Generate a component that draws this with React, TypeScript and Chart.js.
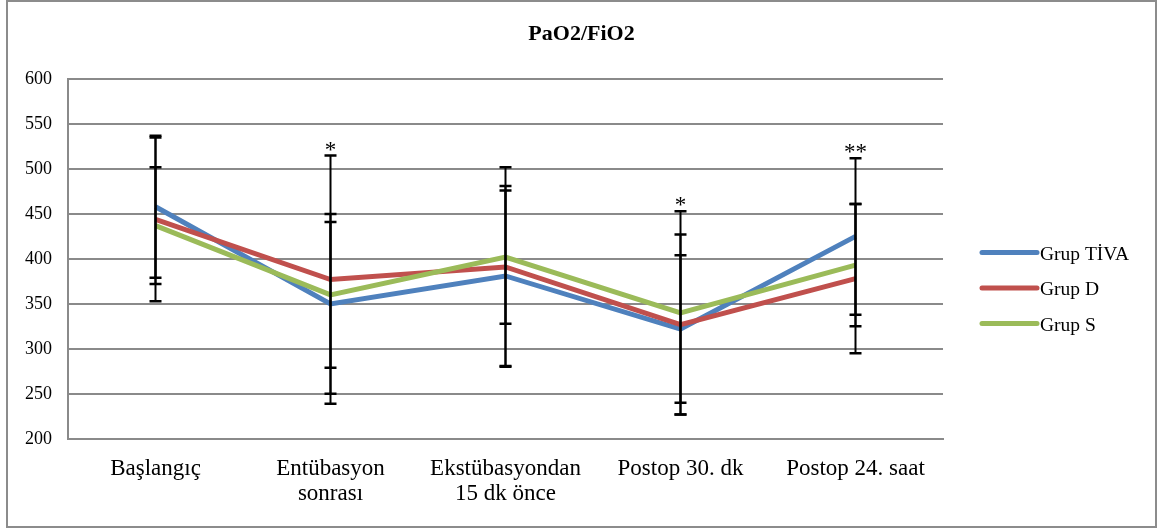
import React, { useEffect, useRef } from 'react';
import { Chart, registerables } from 'chart.js';

Chart.register(...registerables);

// Measurement points along the x axis
const categories: (string | string[])[] = [
  'Başlangıç',
  ['Entübasyon', 'sonrası'],
  ['Ekstübasyondan', '15 dk önce'],
  'Postop 30. dk',
  'Postop 24. saat',
];

const seriesNames = ['Grup TİVA', 'Grup D', 'Grup S'];
const seriesColors = ['#4F81BD', '#C0504D', '#9BBB59'];

// PaO2/FiO2 means and standard deviations per group
const tivaMean = [458, 350, 381, 322, 425];
const tivaSd = [79, 100, 100, 82, 87];
const dMean = [444, 377, 391, 327, 378];
const dSd = [91, 138, 111, 100, 83];
const sMean = [437, 360, 402, 340, 393];
const sSd = [65, 81, 74, 113, 68];

// Significance marks placed above each time point
const significance = ['', '*', '', '*', '**'];

const chartTitle = 'PaO2/FiO2';
const yMin = 200;
const yMax = 600;
const yStep = 50;

const SERIF = '"Liberation Serif", "Times New Roman", serif';
const GRID = '#8a8a8a';

const means = [tivaMean, dMean, sMean];
const sds = [tivaSd, dSd, sSd];

const decorations = {
  id: 'decorations',
  beforeDraw(chart: any) {
    const ctx = chart.ctx;
    ctx.save();
    ctx.fillStyle = '#ffffff';
    ctx.fillRect(0, 0, chart.width, chart.height);
    ctx.strokeStyle = '#8c8c8c';
    ctx.lineWidth = 2;
    ctx.strokeRect(7, 1, 1149, 526);

    // title centred across the whole frame
    ctx.fillStyle = '#000000';
    ctx.font = `bold 22px ${SERIF}`;
    ctx.textAlign = 'center';
    ctx.textBaseline = 'middle';
    ctx.fillText(chartTitle, chart.width / 2 + 2, 34);
    ctx.restore();
  },
  afterDatasetsDraw(chart: any) {
    const ctx = chart.ctx;
    const xs = chart.scales.x;
    const ys = chart.scales.y;
    const area = chart.chartArea;
    ctx.save();

    // standard deviation whiskers
    ctx.strokeStyle = '#000000';
    const tops: number[] = categories.map(() => Infinity);
    means.forEach((m, si) => {
      m.forEach((v, i) => {
        const x = xs.getPixelForValue(i);
        const yHi = ys.getPixelForValue(v + sds[si][i]);
        const yLo = ys.getPixelForValue(v - sds[si][i]);
        tops[i] = Math.min(tops[i], yHi);
        ctx.lineWidth = 2;
        ctx.beginPath();
        ctx.moveTo(x, yHi);
        ctx.lineTo(x, yLo);
        ctx.stroke();
        ctx.lineWidth = 2.5;
        ctx.beginPath();
        ctx.moveTo(x - 6, yHi);
        ctx.lineTo(x + 6, yHi);
        ctx.moveTo(x - 6, yLo);
        ctx.lineTo(x + 6, yLo);
        ctx.stroke();
      });
    });

    // significance asterisks
    ctx.fillStyle = '#000000';
    ctx.font = `23px ${SERIF}`;
    ctx.textAlign = 'center';
    ctx.textBaseline = 'middle';
    significance.forEach((s, i) => {
      if (!s) return;
      ctx.fillText(s, xs.getPixelForValue(i), tops[i] - 5);
    });

    // legend
    const lx = area.right + 39;
    const cy = (area.top + area.bottom) / 2 + 29;
    const gap = 35.5;
    ctx.font = `19.5px ${SERIF}`;
    ctx.textAlign = 'left';
    ctx.lineCap = 'round';
    seriesNames.forEach((name, i) => {
      const y = cy + (i - 1) * gap;
      ctx.strokeStyle = seriesColors[i];
      ctx.lineWidth = 5;
      ctx.beginPath();
      ctx.moveTo(lx, y);
      ctx.lineTo(lx + 55, y);
      ctx.stroke();
      ctx.fillStyle = '#000000';
      ctx.fillText(name, lx + 58, y + 2);
    });
    ctx.restore();
  },
};

export default function App() {
  const canvasRef = useRef<HTMLCanvasElement | null>(null);

  useEffect(() => {
    if (!canvasRef.current) return;
    const drawOrder = [2, 1, 0];
    const chart = new Chart(canvasRef.current, {
      type: 'line',
      data: {
        labels: categories,
        datasets: seriesNames.map((name, i) => ({
          label: name,
          data: means[i],
          borderColor: seriesColors[i],
          backgroundColor: seriesColors[i],
          borderWidth: 5,
          pointRadius: 0,
          tension: 0,
          fill: false,
          order: drawOrder[i],
        })),
      },
      options: {
        animation: false,
        responsive: false,
        devicePixelRatio: 1,
        layout: { padding: { left: 9, right: 216, top: 79, bottom: 4 } },
        plugins: {
          legend: { display: false },
          tooltip: { enabled: false },
          title: { display: false },
        },
        scales: {
          x: {
            offset: true,
            grid: { display: false, drawTicks: false },
            border: { display: true, color: GRID, width: 2 },
            ticks: {
              color: '#000000',
              font: { family: SERIF, size: 23, lineHeight: 1.07 },
              padding: 18,
              maxRotation: 0,
              autoSkip: false,
            },
          },
          y: {
            min: yMin,
            max: yMax,
            grid: { color: GRID, lineWidth: 2, drawTicks: false },
            border: { display: true, color: GRID, width: 2 },
            ticks: {
              stepSize: yStep,
              color: '#000000',
              font: { family: SERIF, size: 18 },
              padding: 16,
            },
          },
        },
      },
      plugins: [decorations],
    });
    return () => chart.destroy();
  }, []);

  return (
    <div style={{ position: 'fixed', left: 0, top: 0, width: 1159, height: 528 }}>
      <canvas ref={canvasRef} width={1159} height={528} />
    </div>
  );
}
